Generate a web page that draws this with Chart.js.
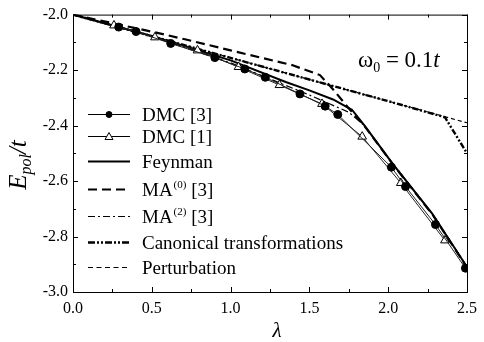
<!DOCTYPE html>
<html>
<head>
<meta charset="utf-8">
<script src="https://cdn.jsdelivr.net/npm/chart.js@4.4.1/dist/chart.umd.min.js"></script>
<style>
  html, body { margin: 0; padding: 0; background: #fff; }
  #wrap { width: 484px; height: 342px; }
</style>
</head>
<body>
<div id="wrap"><canvas id="polChart" width="484" height="342"></canvas></div>
<script>
// values (lambda, E_pol/t)
const seriesNames = ["DMC [3]", "DMC [1]", "Feynman", "MA(0) [3]", "MA(2) [3]", "Canonical transformations", "Perturbation"];

const dmc3Lambda = [0.29, 0.40, 0.62, 0.90, 1.09, 1.22, 1.44, 1.60, 1.68, 2.02, 2.11, 2.30, 2.49];
const dmc3Energy = [-2.045, -2.061, -2.104, -2.155, -2.196, -2.226, -2.286, -2.330, -2.360, -2.550, -2.620, -2.757, -2.914];

const dmc1Lambda = [0.26, 0.52, 0.79, 1.05, 1.31, 1.58, 1.835, 2.08, 2.36];
const dmc1Energy = [-2.039, -2.082, -2.129, -2.189, -2.254, -2.322, -2.440, -2.607, -2.814];

const feynLambda = [0, 0.5, 1.0, 1.35, 1.5, 1.65, 1.77, 1.85, 2.03, 2.28, 2.5];
const feynEnergy = [-2.0, -2.077, -2.165, -2.243, -2.273, -2.306, -2.343, -2.400, -2.539, -2.718, -2.910];

const ma0Lambda = [0, 0.52, 0.71, 1.0, 1.39, 1.567, 1.648, 1.741, 1.85, 2.03, 2.28, 2.5];
const ma0Energy = [-2.0, -2.064, -2.089, -2.129, -2.182, -2.218, -2.268, -2.332, -2.402, -2.540, -2.720, -2.912];

const ma2Lambda = [0, 0.5, 1.0, 1.5, 1.75, 1.85, 2.03, 2.28, 2.5];
const ma2Energy = [-2.0, -2.079, -2.174, -2.290, -2.352, -2.401, -2.538, -2.717, -2.909];

const canonLambda = [0, 0.5, 1.0, 1.5, 2.0, 2.36, 2.5];
const canonEnergy = [-2.0, -2.078, -2.156, -2.234, -2.312, -2.370, -2.500];

const pertLambda = [0, 2.5];
const pertEnergy = [-2.0, -2.390];

const xTickValues = [0, 0.5, 1.0, 1.5, 2.0, 2.5];
const yTickValues = [-3.0, -2.8, -2.6, -2.4, -2.2, -2.0];

function pts(xs, ys) {
  return xs.map((x, i) => ({ x: x, y: ys[i] }));
}

const serif = "'Liberation Serif', 'DejaVu Serif', serif";

// frame, inward ticks, axis titles, legend, annotation
const decorPlugin = {
  id: "decor",
  afterDraw(chart) {
    const ctx = chart.ctx;
    const a = chart.chartArea;
    const xs = chart.scales.x;
    const ys = chart.scales.y;
    ctx.save();
    ctx.strokeStyle = "#000";
    ctx.lineWidth = 1;
    ctx.setLineDash([]);
    ctx.strokeRect(a.left + 0.5, a.top + 0.5, a.right - a.left, a.bottom - a.top);

    ctx.beginPath();
    for (let k = 0; k <= 10; k++) {
      const px = Math.round(xs.getPixelForValue(k * 0.25)) + 0.5;
      const len = k % 2 === 0 ? 5 : 3;
      ctx.moveTo(px, a.bottom); ctx.lineTo(px, a.bottom - len);
      ctx.moveTo(px, a.top); ctx.lineTo(px, a.top + len);
    }
    for (let k = 0; k <= 10; k++) {
      const py = Math.round(ys.getPixelForValue(-3 + k * 0.1)) + 0.5;
      const len = k % 2 === 0 ? 5 : 3;
      ctx.moveTo(a.left, py); ctx.lineTo(a.left + len, py);
      ctx.moveTo(a.right, py); ctx.lineTo(a.right - len, py);
    }
    ctx.stroke();

    ctx.fillStyle = "#000";
    ctx.textBaseline = "alphabetic";

    // x title
    ctx.font = "italic 21px " + serif;
    ctx.textAlign = "center";
    ctx.fillText("\u03bb", 277, 337);

    // y title E_pol/t
    ctx.save();
    ctx.translate(26, 165);
    ctx.rotate(-Math.PI / 2);
    ctx.textAlign = "left";
    const big = "italic 25px " + serif, small = "italic 16px " + serif;
    ctx.font = big; const wE = ctx.measureText("E").width;
    ctx.font = small; const wSub = ctx.measureText("pol").width;
    ctx.font = big; const wT = ctx.measureText("/t").width;
    let x0 = -(wE + wSub + wT) / 2;
    ctx.font = big; ctx.fillText("E", x0, 0); x0 += wE;
    ctx.font = small; ctx.fillText("pol", x0, 5); x0 += wSub;
    ctx.font = big; ctx.fillText("/t", x0, 0);
    ctx.restore();

    // omega_0 annotation
    ctx.textAlign = "left";
    let ax = 358;
    ctx.font = "23px " + serif; ctx.fillText("\u03c9", ax, 67); ax += ctx.measureText("\u03c9").width;
    ctx.font = "14px " + serif; ctx.fillText("0", ax, 72); ax += ctx.measureText("0").width;
    ctx.font = "23px " + serif; ctx.fillText(" = 0.1", ax, 67); ax += ctx.measureText(" = 0.1").width;
    ctx.font = "italic 23px " + serif; ctx.fillText("t", ax, 67);

    // legend
    const rows = [114, 136, 161, 189, 216, 242, 267];
    chart.data.datasets.forEach((ds, i) => {
      const y = rows[i] + 0.5;
      ctx.save();
      ctx.strokeStyle = "#000";
      ctx.lineWidth = ds.borderWidth;
      ctx.setLineDash(ds.legendDash || ds.borderDash || []);
      ctx.beginPath();
      ctx.moveTo(88, y); ctx.lineTo(130, y);
      ctx.stroke();
      ctx.setLineDash([]);
      if (ds.pointRadius > 0) {
        ctx.fillStyle = ds.pointBackgroundColor;
        ctx.lineWidth = 1;
        ctx.beginPath();
        if (ds.pointStyle === "circle") {
          ctx.arc(109, y, 3, 0, Math.PI * 2);
        } else {
          ctx.moveTo(109, y - 4); ctx.lineTo(113, y + 3); ctx.lineTo(105, y + 3); ctx.closePath();
        }
        ctx.fill(); ctx.stroke();
      }
      ctx.restore();

      const name = seriesNames[i];
      const m = name.match(/^MA\((\d)\)(.*)$/);
      let tx = 142;
      ctx.textAlign = "left";
      if (m) {
        ctx.font = "19px " + serif; ctx.fillText("MA", tx, y + 6); tx += ctx.measureText("MA").width;
        ctx.font = "11px " + serif; ctx.fillText("(" + m[1] + ")", tx + 1, y - 2); tx += ctx.measureText("(" + m[1] + ")").width + 1;
        ctx.font = "19px " + serif; ctx.fillText(m[2], tx, y + 6);
      } else {
        ctx.font = "19px " + serif; ctx.fillText(name, tx, y + 6);
      }
    });
    ctx.restore();
  }
};

const lineBase = { borderColor: "#000", fill: false, tension: 0, pointRadius: 0, pointHoverRadius: 0 };

new Chart(document.getElementById("polChart"), {
  type: "line",
  data: {
    datasets: [
      Object.assign({}, lineBase, { label: seriesNames[0], data: pts(dmc3Lambda, dmc3Energy), borderWidth: 1, borderColor: "#222",
        pointStyle: "circle", pointRadius: 4, pointBackgroundColor: "#000", pointBorderColor: "#000", pointBorderWidth: 1 }),
      Object.assign({}, lineBase, { label: seriesNames[1], data: pts(dmc1Lambda, dmc1Energy), borderWidth: 1, borderColor: "#222",
        pointStyle: "triangle", pointRadius: 5, pointBackgroundColor: "#fff", pointBorderColor: "#000", pointBorderWidth: 1 }),
      Object.assign({}, lineBase, { label: seriesNames[2], data: pts(feynLambda, feynEnergy), borderWidth: 2 }),
      Object.assign({}, lineBase, { label: seriesNames[3], data: pts(ma0Lambda, ma0Energy), borderWidth: 2.2, borderDash: [9, 5], legendDash: [9, 5] }),
      Object.assign({}, lineBase, { label: seriesNames[4], data: pts(ma2Lambda, ma2Energy), borderWidth: 1.2, borderDash: [7, 3, 2, 3], legendDash: [7, 3, 2, 3] }),
      Object.assign({}, lineBase, { label: seriesNames[5], data: pts(canonLambda, canonEnergy), borderWidth: 2.4, borderDash: [6, 2, 2, 2, 2, 2], legendDash: [7, 2, 2, 2, 2, 2] }),
      Object.assign({}, lineBase, { label: seriesNames[6], data: pts(pertLambda, pertEnergy), borderWidth: 1.2, borderDash: [4, 3], legendDash: [5, 3.5] })
    ]
  },
  options: {
    responsive: false,
    animation: false,
    events: [],
    layout: { padding: { left: 0, right: 9, top: 12, bottom: 0 } },
    plugins: { legend: { display: false }, tooltip: { enabled: false } },
    scales: {
      x: {
        type: "linear", min: 0, max: 2.5,
        afterFit: (s) => { s.height = 50; },
        afterBuildTicks: (s) => { s.ticks = xTickValues.map(v => ({ value: v })); },
        grid: { display: false, drawTicks: false },
        border: { display: false },
        ticks: { padding: 7, color: "#000", font: { family: serif, size: 16 }, callback: (v) => v.toFixed(1), maxRotation: 0, autoSkip: false }
      },
      y: {
        type: "linear", min: -3, max: -2,
        afterFit: (s) => { s.width = 73; },
        afterBuildTicks: (s) => { s.ticks = yTickValues.map(v => ({ value: v })); },
        grid: { display: false, drawTicks: false },
        border: { display: false },
        ticks: { padding: 5, color: "#000", font: { family: serif, size: 16 }, callback: (v) => v.toFixed(1), autoSkip: false }
      }
    }
  },
  plugins: [decorPlugin]
});
</script>
</body>
</html>
